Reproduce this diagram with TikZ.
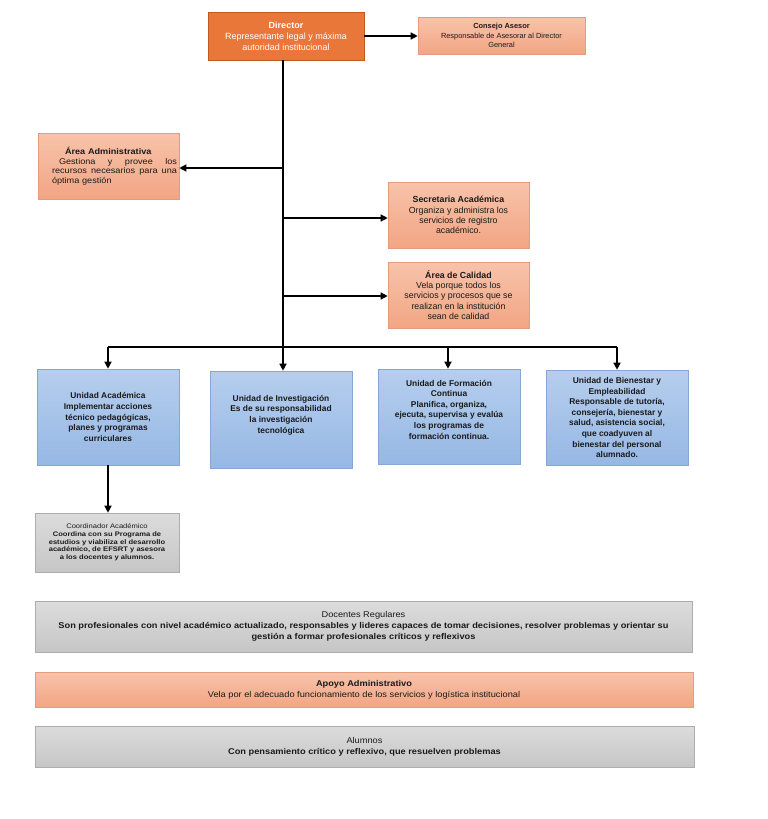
\documentclass[tikz,border=0pt]{standalone}
\usepackage{fontspec}
\setmainfont{Liberation Sans}
\newfontfamily\widesans[FakeStretch=1.1]{Liberation Sans}
\newfontfamily\widersans[FakeStretch=1.15]{Liberation Sans}
\usetikzlibrary{arrows.meta}
\definecolor{dirfill}{HTML}{E9773A}
\definecolor{dirdraw}{HTML}{C05A22}
\definecolor{saltop}{HTML}{F8C3AA}
\definecolor{salbot}{HTML}{F2A583}
\definecolor{saldraw}{HTML}{E59C7C}
\definecolor{bluetop}{HTML}{B6CEEE}
\definecolor{bluebot}{HTML}{96B8E4}
\definecolor{bluedraw}{HTML}{86A6D4}
\definecolor{graytop}{HTML}{DCDCDC}
\definecolor{graybot}{HTML}{C6C6C6}
\definecolor{graydraw}{HTML}{ADADAD}
\definecolor{txt}{HTML}{1A1A1A}
\begin{document}
\begin{tikzpicture}[x=1pt,y=-1pt,
  box/.style={inner sep=2pt, align=center, text=txt, line width=0.6pt},
  dirbox/.style={box, fill=dirfill, draw=dirdraw, text=white, line width=0.9pt},
  salbox/.style={box, top color=saltop, bottom color=salbot, draw=saldraw},
  bluebox/.style={box, top color=bluetop, bottom color=bluebot, draw=bluedraw},
  graybox/.style={box, top color=graytop, bottom color=graybot, draw=graydraw},
  conn/.style={line width=1.4pt, black, -{Triangle[length=7pt,width=7pt]}},
  line/.style={line width=1.4pt, black},
  unitfont/.style={font=\fontsize{8.4}{10.6}\selectfont\bfseries},
  bandfont/.style={font=\widesans\fontsize{8.4}{10.8}\selectfont}
]
\useasboundingbox (0,0) rectangle (768,819);

% top boxes
\node[dirbox, minimum width=156pt, minimum height=48pt, font=\fontsize{9}{11}\selectfont] (dir) at (286,36)
  {\textbf{Director}\\Representante legal y máxima\\autoridad institucional};
\node[salbox, minimum width=167pt, minimum height=37pt, font=\fontsize{7.4}{9.5}\selectfont] (cons) at (501.5,35.5)
  {\textbf{Consejo Asesor}\\Responsable de Asesorar al Director\\General};
\node[salbox, minimum width=141pt, minimum height=66pt, text width=137pt, align=left, font=\widesans\fontsize{8.3}{9.6}\selectfont] (adm) at (108.5,166)
  {\hspace*{25pt}\textbf{Área Administrativa}\\
   \hspace*{19pt}\hbox to 118pt{Gestiona\hfill y\hfill provee\hfill los}\\
   \hspace*{12pt}\hbox to 125pt{recursos\hfill necesarios\hfill para\hfill una}\\
   \hspace*{12pt}óptima gestión};
\node[salbox, minimum width=141pt, minimum height=66pt, font=\fontsize{8.8}{10.2}\selectfont] (sec) at (458.5,215)
  {\textbf{Secretaria Académica}\\Organiza y administra los\\servicios de registro\\académico.};
\node[salbox, minimum width=141pt, minimum height=66pt, font=\fontsize{8.8}{10.2}\selectfont] (cal) at (458.5,295)
  {\textbf{Área de Calidad}\\Vela porque todos los\\servicios y procesos que se\\realizan en la institución\\sean de calidad};

% units
\node[bluebox, unitfont, minimum width=142pt, minimum height=96pt] (ua) at (108,417)
  {Unidad Académica\\Implementar acciones\\técnico pedagógicas,\\planes y programas\\curriculares};
\node[bluebox, unitfont, minimum width=142pt, minimum height=97pt] (ui) at (281,419.5)
  {Unidad de Investigación\\Es de su responsabilidad\\la investigación\\tecnológica\\[0pt]};
\node[bluebox, unitfont, minimum width=142pt, minimum height=95pt] (uf) at (449,416.5)
  {Unidad de Formación\\Continua\\Planifica, organiza,\\ejecuta, supervisa y evalúa\\los programas de\\formación continua.\\[3.5pt]};
\node[bluebox, unitfont, minimum width=142pt, minimum height=95pt] (ub) at (617,417.5)
  {Unidad de Bienestar y\\Empleabilidad\\Responsable de tutoría,\\consejería, bienestar y\\salud, asistencia social,\\que coadyuven al\\bienestar del personal\\alumnado.};

\node[graybox, minimum width=144pt, minimum height=59pt, font=\widersans\fontsize{6.6}{7.7}\selectfont\bfseries] (coord) at (107,542.5)
  {\mdseries Coordinador Académico\\Coordina con su Programa de\\estudios y viabiliza el desarrollo\\académico, de EFSRT y asesora\\a los docentes y alumnos.};

% bottom bands
\node[graybox, bandfont, minimum width=657pt, minimum height=51pt] (doc) at (363.5,626.5)
  {Docentes Regulares\\\textbf{Son profesionales con nivel académico actualizado, responsables y lideres capaces de tomar decisiones, resolver problemas y orientar su}\\\textbf{gestión a formar profesionales críticos y reflexivos}};
\node[salbox, bandfont, minimum width=658pt, minimum height=35pt] (apo) at (364,689.5)
  {\textbf{Apoyo Administrativo}\\Vela por el adecuado funcionamiento de los servicios y logística institucional};
\node[graybox, bandfont, minimum width=659pt, minimum height=41pt] (alu) at (364.5,746.5)
  {Alumnos\\\textbf{Con pensamiento crítico y reflexivo, que resuelven problemas}};

% connectors
\coordinate (ttop) at (283,60);
\coordinate (tadm) at (283,168);
\coordinate (tsec) at (283,218);
\coordinate (tcal) at (283,296);
\coordinate (busL) at (108,347);
\coordinate (busF) at (448,347);
\coordinate (busR) at (617,347);

\draw[conn] (dir.east |- 0,36) -- (cons.west |- 0,36);
\draw[conn] (ttop) -- (ttop |- ui.north);
\draw[conn] (tadm) -- (tadm -| adm.east);
\draw[conn] (tsec) -- (tsec -| sec.west);
\draw[conn] (tcal) -- (tcal -| cal.west);
\draw[line] (busL) -- (busR);
\draw[conn] (busL) -- (busL |- ua.north);
\draw[conn] (busF) -- (busF |- uf.north);
\draw[conn] (busR) -- (busR |- ub.north);
\draw[conn] (ua.south) -- (ua.south |- coord.north);
\end{tikzpicture}
\end{document}
